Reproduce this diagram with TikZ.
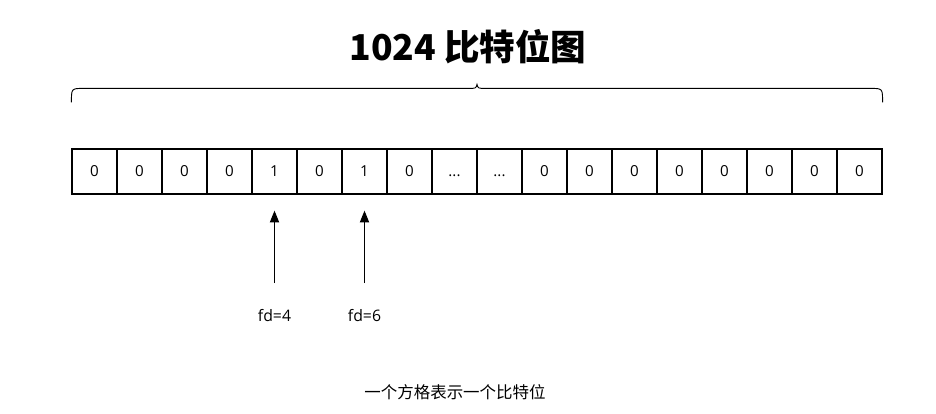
\documentclass[tikz,border=0pt]{standalone}
\usepackage{fontspec}
\setmainfont{Open Sans}
\newfontfamily\cjk{Noto Sans CJK SC}
\usepackage{tikz}
\usetikzlibrary{calc, positioning, arrows.meta}

\newcommand{\bitdots}{...}

\begin{document}
\begin{tikzpicture}[x=0.2667mm,y=-0.2667mm,
                    bit node/.style={rectangle,draw,line width=0.9pt,minimum size=1.2cm,inner sep=0pt,text height=1.5ex,text depth=0.2ex,font=\fontsize{11.5}{14}\selectfont},
                    fd arrow/.style={-{Triangle[length=9pt,width=7pt]},line width=0.9pt}]

  \useasboundingbox (0,0) rectangle (936,413);

  \node[font=\cjk\fontsize{27}{32}\selectfont\bfseries] (title) at (468,47) {1024 比特位图};

  % the 18 cells
  \foreach \i/\v in {1/0,2/0,3/0,4/0,5/1,6/0,7/1,8/0,9/\bitdots,10/\bitdots,11/0,12/0,13/0,14/0,15/0,16/0,17/0,18/0}
    \node[bit node] (c\i) at ({94.5+45*(\i-1)},171.5) {\v};

  % brace over the cells
  \coordinate (bl) at ($(c1.north west)+(0,-46)$);
  \coordinate (br) at ($(c18.north east)+(0,-46)$);
  \coordinate (bm) at ($(bl)!0.5!(br)+(0,-18)$);
  \draw[line width=0.7pt]
    (bl) .. controls ($(bl)+(0,-14)$) .. ($(bl)+(12,-14)$)
    -- ($(bm)+(-9,4)$) .. controls ($(bm)+(-1,4)$) .. (bm)
    .. controls ($(bm)+(1,4)$) .. ($(bm)+(9,4)$)
    -- ($(br)+(-12,-14)$) .. controls ($(br)+(0,-14)$) .. (br);

  \node[font=\fontsize{12}{14}\selectfont] (fd4) at (274.5,316) {fd=4};
  \node[font=\fontsize{12}{14}\selectfont] (fd6) at (364.5,316) {fd=6};
  \coordinate (a4) at (274.5,283);
  \coordinate (a6) at (364.5,283);

  \draw[fd arrow,shorten >=16*0.2667mm] (a4) -- (c5.south);
  \draw[fd arrow,shorten >=16*0.2667mm] (a6) -- (c7.south);

  \node[font=\cjk\fontsize{12.5}{15}\selectfont] (note) at (455,392) {一个方格表示一个比特位};

\end{tikzpicture}
\end{document}
